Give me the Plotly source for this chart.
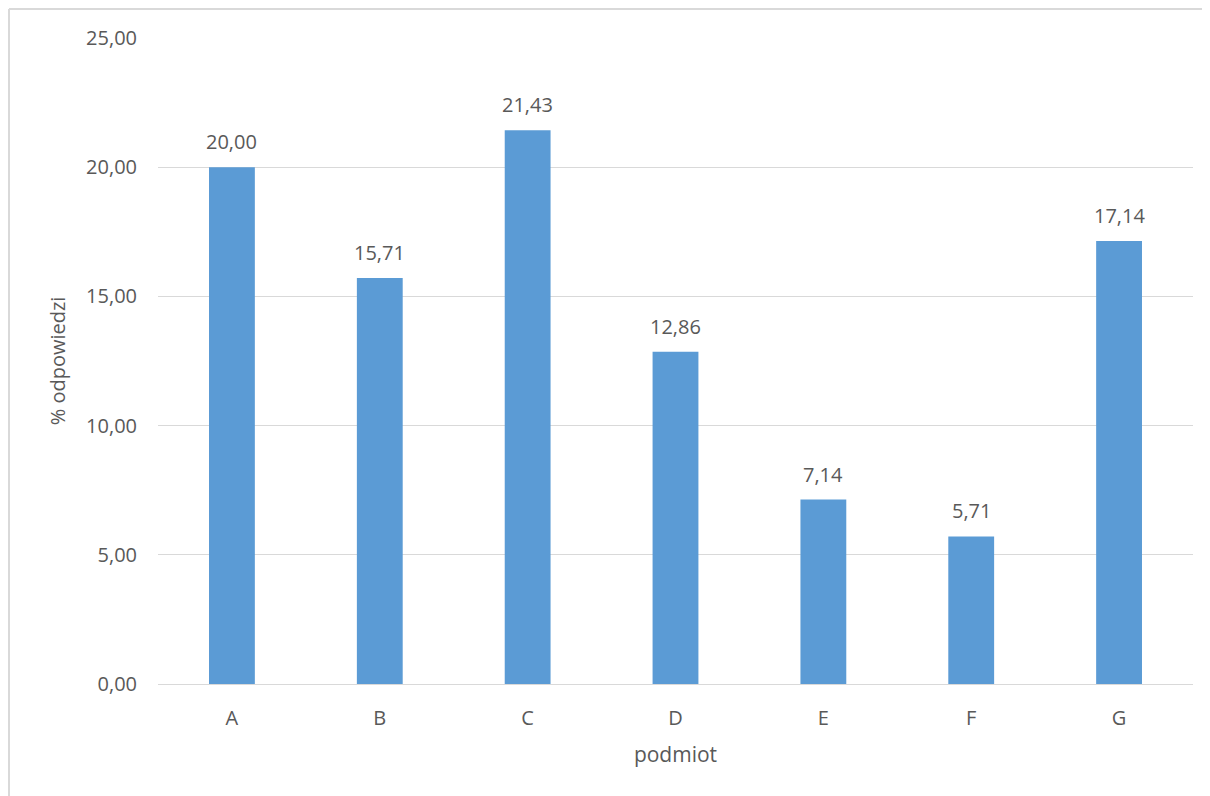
import plotly.graph_objects as go

categories = ["A", "B", "C", "D", "E", "F", "G"]
values = [20.00, 15.71, 21.43, 12.86, 7.14, 5.71, 17.14]
y_ticks = [0, 5, 10, 15, 20, 25]
y_tick_labels = ["0,00", "5,00", "10,00", "15,00", "20,00", "25,00"]
labels = [f"{v:.2f}".replace(".", ",") for v in values]

FONT = "Open Sans"
GREY = "#595959"

fig = go.Figure(go.Bar(
    x=categories, y=values,
    marker=dict(color="#5B9BD5", line=dict(width=0)),
))

for c, v, t in zip(categories, values, labels):
    fig.add_annotation(x=c, y=v, text=t, showarrow=False, yanchor="bottom",
                       yshift=10, font=dict(family=FONT, size=20, color=GREY))

W, H = 1210, 796
L, R, T, B = 150, 25, 30, 120
pw, ph = W - L - R, H - T - B

x_left = (1 - L) / pw
x_right = (W + 20 - L) / pw
y_top = (H - B - 1) / ph
y_bottom = (H - B - (H + 20)) / ph

fig.update_layout(
    width=W, height=H,
    margin=dict(l=L, r=R, t=T, b=B, pad=0),
    paper_bgcolor="white", plot_bgcolor="white",
    bargap=0.69,
    showlegend=False,
    font=dict(family=FONT, color=GREY),
    xaxis=dict(
        showgrid=False, showline=False, ticks="",
        tickfont=dict(family=FONT, size=20, color=GREY),
        ticklabelstandoff=20,
        title=dict(text="podmiot", font=dict(family=FONT, size=21, color=GREY), standoff=17),
    ),
    yaxis=dict(
        range=[0, 25], tickvals=y_ticks, ticktext=y_tick_labels,
        showgrid=True, gridcolor="#d9d9d9", gridwidth=1,
        zeroline=True, zerolinecolor="#d9d9d9", zerolinewidth=1,
        showline=False, ticks="",
        tickfont=dict(family=FONT, size=20, color=GREY),
        ticklabelstandoff=20,
        title=dict(text="% odpowiedzi", font=dict(family=FONT, size=20, color=GREY), standoff=15),
    ),
    shapes=[
        dict(type="line", xref="paper", yref="paper",
             x0=x_left, x1=x_left, y0=y_bottom, y1=y_top,
             line=dict(color="#d9d9d9", width=2), layer="above"),
        dict(type="line", xref="paper", yref="paper",
             x0=x_left, x1=x_right, y0=y_top, y1=y_top,
             line=dict(color="#d9d9d9", width=2), layer="above"),
    ],
)

fig.write_html("out.html")
